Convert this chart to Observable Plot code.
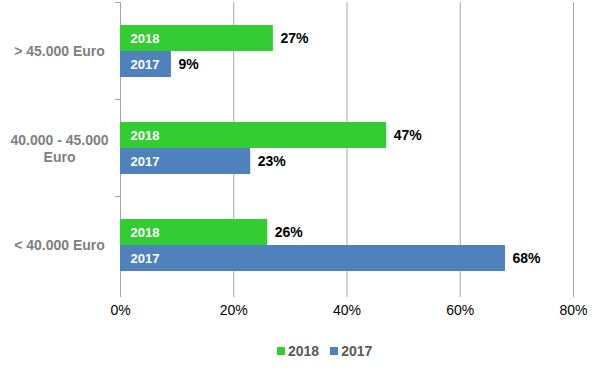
<!DOCTYPE html>
<html><head><meta charset="utf-8">
<script src="https://cdn.jsdelivr.net/npm/d3@7"></script>
<script src="https://cdn.jsdelivr.net/npm/@observablehq/plot@0.6"></script>
<style>
body{margin:0;background:#fff;font-family:"Liberation Sans",Arial,sans-serif;}
#legend{display:flex;align-items:center;margin-top:18px;padding-left:277px;font-size:14px;line-height:16px;color:#595959;font-weight:bold;}
#legend .sw{width:8px;height:8px;margin-right:3px;}
#legend .lb{margin-right:11px;}
</style></head><body><div id="chart"></div>
<script>
const categories = ["> 45.000 Euro", "40.000 - 45.000 Euro", "< 40.000 Euro"];
const series = ["2018", "2017"];
const values2018 = [27, 47, 26];
const values2017 = [9, 23, 68];
const xTicks = [0, 20, 40, 60, 80];
const colors = ["#33cc33", "#4f81bd"];

const data = categories.flatMap((c, i) => [
  {category: c, series: "2018", value: values2018[i]},
  {category: c, series: "2017", value: values2017[i]}
]);

const W = 595, ML = 120, MR = 22;
const chart = Plot.plot({
  width: W, height: 325, marginLeft: ML, marginRight: MR, marginTop: 1, marginBottom: 32,
  style: {fontFamily: "Liberation Sans, Arial, sans-serif", background: "#fff", overflow: "visible"},
  x: {domain: [0, 80]},
  fy: {domain: categories, padding: 0},
  y: {domain: series, paddingInner: 0, paddingOuter: 0.8, axis: null},
  color: {domain: series, range: colors},
  marks: [
    Plot.ruleX(xTicks, {stroke: "#a6a6a6", strokeOpacity: 1}),
    Plot.frame({anchor: "top", stroke: "#a6a6a6", insetLeft: -5, insetRight: W - ML - MR}),
    Plot.barX(data, {y: "series", fy: "category", x: "value", fill: "series"}),
    Plot.text(data, {y: "series", fy: "category", x: 0, text: "series", dx: 10, textAnchor: "start", fill: "white", fontWeight: "bold", fontSize: 13}),
    Plot.text(data, {y: "series", fy: "category", x: "value", text: d => d.value + "%", dx: 7, textAnchor: "start", fill: "black", fontWeight: "bold", fontSize: 14}),
    Plot.axisX({ticks: xTicks, tickFormat: d => d + "%", tickSize: 4, tickPadding: 8, line: true, stroke: "#a6a6a6", fill: "black", fontSize: 14, label: null}),
    Plot.axisFy({anchor: "left", tickSize: 0, tickPadding: 61, textAnchor: "middle", fontSize: 14, lineHeight: 1.2, fontWeight: "bold", fill: "#7f7f7f", label: null,
      tickFormat: d => d === "40.000 - 45.000 Euro" ? "40.000 - 45.000\nEuro" : d})
  ]
});
document.getElementById("chart").appendChild(chart);

const legend = document.createElement("div");
legend.id = "legend";
series.forEach((s, i) => {
  const sw = document.createElement("span"); sw.className = "sw"; sw.style.background = colors[i];
  const lb = document.createElement("span"); lb.className = "lb"; lb.textContent = s;
  legend.appendChild(sw); legend.appendChild(lb);
});
document.body.appendChild(legend);
</script></body></html>
